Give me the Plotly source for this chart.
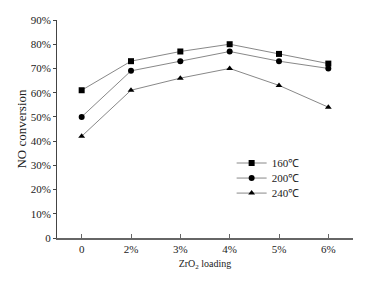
import plotly.graph_objects as go

categories = ["0", "2%", "3%", "4%", "5%", "6%"]
s160 = [61, 73, 77, 80, 76, 72]
s200 = [50, 69, 73, 77, 73, 70]
s240 = [42, 61, 66, 70, 63, 54]
series_names = ["160℃", "200℃", "240℃"]
yticks = [0, 10, 20, 30, 40, 50, 60, 70, 80, 90]
ytext = ["0", "10%", "20%", "30%", "40%", "50%", "60%", "70%", "80%", "90%"]

font = dict(family="Liberation Serif, Times New Roman, serif", size=11, color="#222")
fig = go.Figure()
xs = list(range(len(categories)))
legends = ["legend", "legend2", "legend3"]
for name, vals, sym, lg in zip(series_names, [s160, s200, s240],
                               ["square", "circle", "triangle-up"], legends):
    fig.add_trace(go.Scatter(x=xs, y=vals, name=name, mode="lines+markers", legend=lg,
                             line=dict(color="#888", width=1),
                             marker=dict(symbol=sym, color="black", size=6)))

leg_common = dict(x=0.59, xanchor="left", yanchor="middle", bgcolor="rgba(0,0,0,0)",
                  font=dict(size=11), itemwidth=30)
fig.update_layout(
    width=368, height=285, margin=dict(l=57, r=15, t=20, b=47),
    paper_bgcolor="white", plot_bgcolor="white", font=font,
    showlegend=True,
    legend=dict(y=0.344, **leg_common),
    legend2=dict(y=0.275, **leg_common),
    legend3=dict(y=0.206, **leg_common),
    xaxis=dict(range=[-0.5, 5.5], tickvals=xs, ticktext=categories, showgrid=False,
               showline=True, linecolor="#666", linewidth=2, ticks="inside", ticklen=4,
               tickcolor="#666", zeroline=False,
               title=dict(text="ZrO<sub>2</sub> loading", standoff=6, font=dict(size=10))),
    yaxis=dict(range=[0, 90], tickvals=yticks, ticktext=ytext, showgrid=False,
               showline=True, linecolor="#444", linewidth=1, ticks="outside", ticklen=3,
               tickcolor="#444", zeroline=False,
               title=dict(text="NO conversion", standoff=1)),
)
fig.write_html("out.html", post_script="document.body.style.margin='0px';",
               config={"displayModeBar": False})
